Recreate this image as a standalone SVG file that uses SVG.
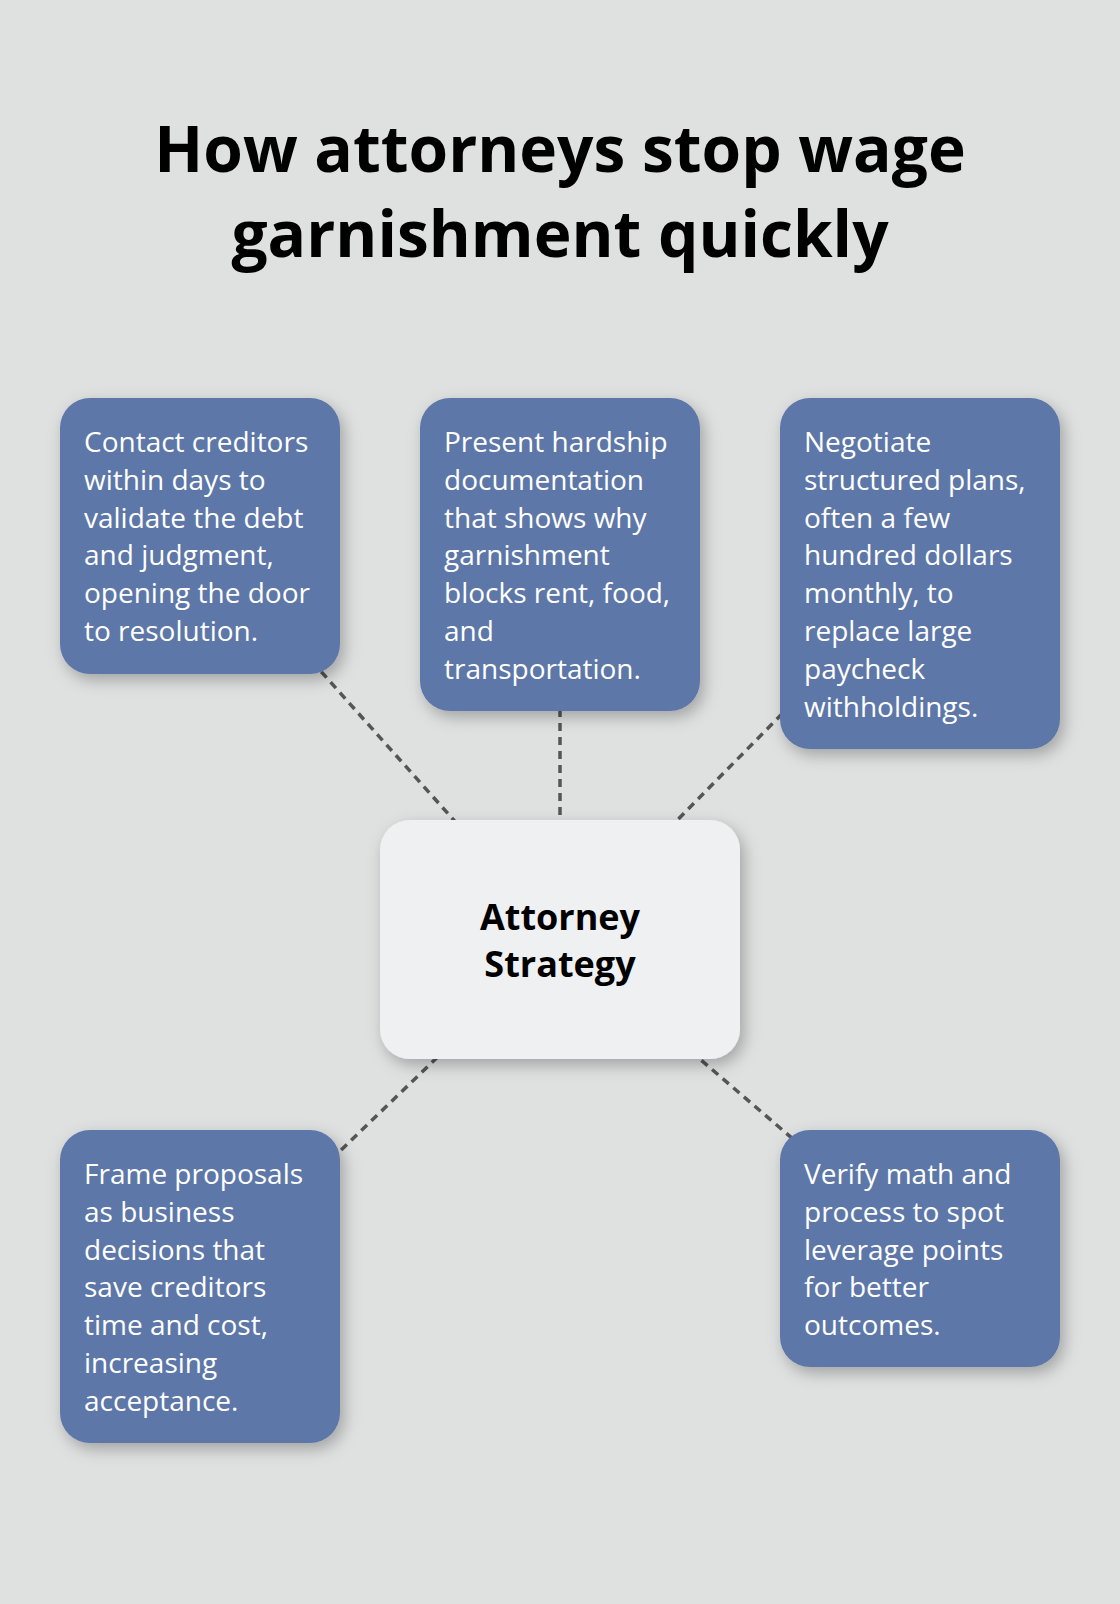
<svg xmlns="http://www.w3.org/2000/svg" width="1120" height="1604" viewBox="0 0 1120 1604">
<defs>
<filter id="sh" x="-20%" y="-20%" width="150%" height="150%">
<feDropShadow dx="4" dy="6" stdDeviation="8" flood-color="#000" flood-opacity="0.28"/>
</filter>
<style>
.bx{fill:#5D77A8;filter:url(#sh)}
.ct{fill:#EFF0F2;filter:url(#sh)}
.t{font-family:"Open Sans","Noto Sans",sans-serif;font-size:28px;fill:#FFFFFF}
.c{font-family:"Open Sans","Noto Sans",sans-serif;font-size:36px;font-weight:bold;fill:#000;text-anchor:middle}
.ttl{font-family:"Open Sans","Noto Sans",sans-serif;font-size:64px;font-weight:bold;fill:#000;text-anchor:middle}
.ln{stroke:#555;stroke-width:3.5;stroke-dasharray:8 6;fill:none}
</style>
</defs>
<rect width="1120" height="1604" fill="#DFE1E0"/>
<g id="title">
<text class="ttl" x="560" y="172">How attorneys stop wage</text>
<text class="ttl" x="560" y="257">garnishment quickly</text>
</g>
<g id="connectors">
<line class="ln" x1="200" y1="536" x2="560" y2="939"/>
<line class="ln" x1="560" y1="555" x2="560" y2="939"/>
<line class="ln" x1="920" y1="574" x2="560" y2="939"/>
<line class="ln" x1="200" y1="1286" x2="560" y2="939"/>
<line class="ln" x1="920" y1="1248" x2="560" y2="939"/>
</g>
<g id="center">
<rect class="ct" x="380" y="820" width="360" height="239" rx="30"/>
<text class="c" x="560" y="930">Attorney</text>
<text class="c" x="560" y="977">Strategy</text>
</g>
<g id="n1">
<rect class="bx" x="60" y="398" width="280" height="276" rx="30"/>
<text class="t" x="84" y="452">Contact creditors</text>
<text class="t" x="84" y="489.8">within days to</text>
<text class="t" x="84" y="527.6">validate the debt</text>
<text class="t" x="84" y="565.4">and judgment,</text>
<text class="t" x="84" y="603.2">opening the door</text>
<text class="t" x="84" y="641">to resolution.</text>
</g>
<g id="n2">
<rect class="bx" x="420" y="398" width="280" height="313" rx="30"/>
<text class="t" x="444" y="452">Present hardship</text>
<text class="t" x="444" y="489.8">documentation</text>
<text class="t" x="444" y="527.6">that shows why</text>
<text class="t" x="444" y="565.4">garnishment</text>
<text class="t" x="444" y="603.2">blocks rent, food,</text>
<text class="t" x="444" y="641">and</text>
<text class="t" x="444" y="678.8">transportation.</text>
</g>
<g id="n3">
<rect class="bx" x="780" y="398" width="280" height="351" rx="30"/>
<text class="t" x="804" y="452">Negotiate</text>
<text class="t" x="804" y="489.8">structured plans,</text>
<text class="t" x="804" y="527.6">often a few</text>
<text class="t" x="804" y="565.4">hundred dollars</text>
<text class="t" x="804" y="603.2">monthly, to</text>
<text class="t" x="804" y="641">replace large</text>
<text class="t" x="804" y="678.8">paycheck</text>
<text class="t" x="804" y="716.6">withholdings.</text>
</g>
<g id="n4">
<rect class="bx" x="60" y="1130" width="280" height="313" rx="30"/>
<text class="t" x="84" y="1184">Frame proposals</text>
<text class="t" x="84" y="1221.8">as business</text>
<text class="t" x="84" y="1259.6">decisions that</text>
<text class="t" x="84" y="1297.4">save creditors</text>
<text class="t" x="84" y="1335.2">time and cost,</text>
<text class="t" x="84" y="1373">increasing</text>
<text class="t" x="84" y="1410.8">acceptance.</text>
</g>
<g id="n5">
<rect class="bx" x="780" y="1130" width="280" height="237" rx="30"/>
<text class="t" x="804" y="1184">Verify math and</text>
<text class="t" x="804" y="1221.8">process to spot</text>
<text class="t" x="804" y="1259.6">leverage points</text>
<text class="t" x="804" y="1297.4">for better</text>
<text class="t" x="804" y="1335.2">outcomes.</text>
</g>
</svg>
